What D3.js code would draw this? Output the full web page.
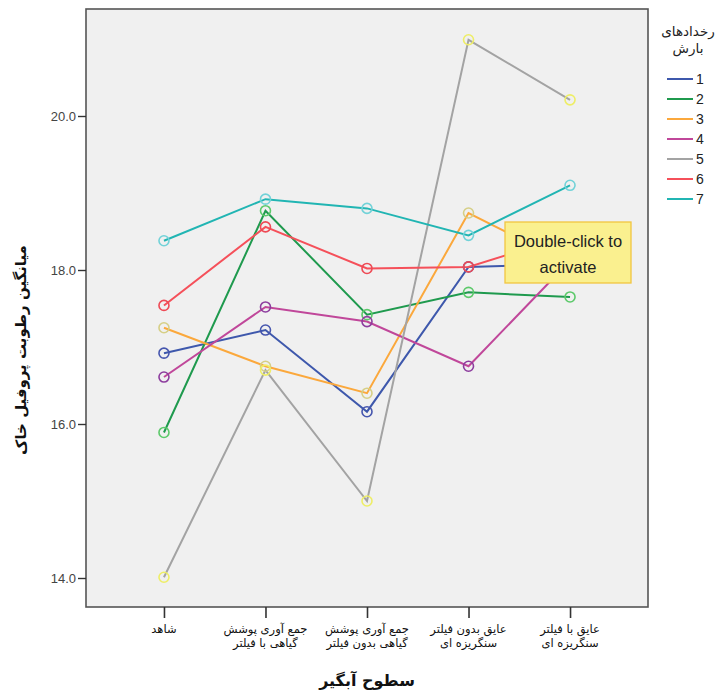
<!DOCTYPE html>
<html>
<head>
<meta charset="utf-8">
<script src="https://cdn.jsdelivr.net/npm/d3@7"></script>
<style>
  body { margin: 0; background: #ffffff; }
  svg { display: block; }
</style>
</head>
<body>
<svg id="chart" width="722" height="693"></svg>
<script>
// ---- data ----
const categories = [
  ["شاهد"],
  ["جمع آوری پوشش", "گیاهی با فیلتر"],
  ["جمع آوری پوشش", "گیاهی بدون فیلتر"],
  ["عایق بدون فیلتر", "سنگریزه ای"],
  ["عایق با فیلتر", "سنگریزه ای"]
];
const seriesNames = ["1", "2", "3", "4", "5", "6", "7"];
const series1 = [16.92, 17.22, 16.16, 18.04, 18.08];
const series2 = [15.89, 18.77, 17.42, 17.71, 17.65];
const series3 = [17.25, 16.75, 16.40, 18.74, 18.08];
const series4 = [16.61, 17.52, 17.33, 16.75, 18.12];
const series5 = [14.01, 16.70, 15.00, 20.99, 20.21];
const series6 = [17.54, 18.56, 18.02, 18.04, 18.45];
const series7 = [18.38, 18.92, 18.80, 18.45, 19.10];
const yTicks = [14, 16, 18, 20];
const lineColors = ["#3e58ac", "#1f9a4e", "#fba83c", "#c0479a", "#a3a3a3", "#f5505a", "#21b5b3"];
const markerColors = ["#4656ae", "#5cc96a", "#d6cf86", "#8d3d9e", "#eeee66", "#ee4a55", "#72d2d8"];
const yTitle = "میانگین رطوبت پروفیل خاک";
const xTitle = "سطوح آبگیر";
const legendTitle = ["رخدادهای", "بارش"];
const noteLines = ["Double-click to", "activate"];

const allSeries = [series1, series2, series3, series4, series5, series6, series7];

// ---- layout ----
const svg = d3.select("#chart");
const frame = { left: 86, top: 9, right: 648, bottom: 607 };

const x = d3.scalePoint()
  .domain(d3.range(categories.length))
  .range([frame.left, frame.right])
  .padding(0.768);
const y = d3.scaleLinear().domain([14, 20]).range([578, 116]);

// plot background
svg.append("rect")
  .attr("x", frame.left).attr("y", frame.top)
  .attr("width", frame.right - frame.left).attr("height", frame.bottom - frame.top)
  .attr("fill", "#f0f0f0");

// lines
const line = d3.line().x((d, i) => x(i)).y(d => y(d));
allSeries.forEach((s, k) => {
  svg.append("path")
    .datum(s)
    .attr("d", line)
    .attr("fill", "none")
    .attr("stroke", lineColors[k])
    .attr("stroke-width", 2);
});
// markers
allSeries.forEach((s, k) => {
  svg.append("g").selectAll("circle")
    .data(s)
    .join("circle")
    .attr("cx", (d, i) => x(i))
    .attr("cy", d => y(d))
    .attr("r", 5)
    .attr("fill", "none")
    .attr("stroke", markerColors[k])
    .attr("stroke-width", 1.6);
});

// frame
svg.append("rect")
  .attr("x", frame.left).attr("y", frame.top)
  .attr("width", frame.right - frame.left).attr("height", frame.bottom - frame.top)
  .attr("fill", "none")
  .attr("stroke", "#555")
  .attr("stroke-width", 1.6);

// y axis
const yAxis = svg.append("g")
  .attr("transform", `translate(${frame.left},0)`)
  .call(d3.axisLeft(y).tickValues(yTicks).tickFormat(d3.format(".1f")).tickSize(8).tickPadding(2));
yAxis.select(".domain").remove();
yAxis.selectAll(".tick line").attr("stroke", "#333").attr("stroke-width", 1.4);
yAxis.selectAll(".tick text")
  .attr("font-family", "Liberation Sans, Arial, sans-serif")
  .attr("font-size", 13)
  .attr("fill", "#444");

// x axis
const xAxis = svg.append("g")
  .attr("transform", `translate(0,${frame.bottom})`)
  .call(d3.axisBottom(x).tickSize(11).tickFormat(""));
xAxis.select(".domain").remove();
xAxis.selectAll(".tick line").attr("stroke", "#333").attr("stroke-width", 1.6);
categories.forEach((lines, i) => {
  const t = svg.append("text")
    .attr("x", x(i))
    .attr("text-anchor", "middle")
    .attr("direction", "rtl")
    .attr("font-family", "DejaVu Sans, sans-serif")
    .attr("font-size", 11.5)
    .attr("fill", "#111");
  lines.forEach((l, j) => {
    t.append("tspan").attr("x", x(i)).attr("y", 633 + j * 14).text(l);
  });
});

// axis titles
svg.append("text")
  .attr("x", (frame.left + frame.right) / 2)
  .attr("y", 686)
  .attr("text-anchor", "middle")
  .attr("direction", "rtl")
  .attr("font-family", "DejaVu Sans, sans-serif")
  .attr("font-weight", "bold")
  .attr("font-size", 16)
  .attr("fill", "#111")
  .text(xTitle);

svg.append("text")
  .attr("transform", "translate(26,350) rotate(-90)")
  .attr("text-anchor", "middle")
  .attr("direction", "rtl")
  .attr("font-family", "DejaVu Sans, sans-serif")
  .attr("font-weight", "bold")
  .attr("font-size", 15)
  .attr("fill", "#111")
  .text(yTitle);

// legend
const lt = svg.append("text")
  .attr("text-anchor", "middle")
  .attr("direction", "rtl")
  .attr("font-family", "DejaVu Sans, sans-serif")
  .attr("font-size", 13.5)
  .attr("fill", "#222");
legendTitle.forEach((l, j) => {
  lt.append("tspan").attr("x", 688).attr("y", 36 + j * 17).text(l);
});
seriesNames.forEach((n, k) => {
  const yy = 79 + k * 20;
  svg.append("line")
    .attr("x1", 667).attr("x2", 693)
    .attr("y1", yy).attr("y2", yy)
    .attr("stroke", lineColors[k]).attr("stroke-width", 2);
  svg.append("text")
    .attr("x", 696).attr("y", yy + 5)
    .attr("font-family", "Liberation Sans, Arial, sans-serif")
    .attr("font-size", 14)
    .attr("fill", "#222")
    .text(n);
});

// activation note box
svg.append("rect")
  .attr("x", 505).attr("y", 222)
  .attr("width", 126).attr("height", 61)
  .attr("fill", "#faf08f")
  .attr("stroke", "#f2c540")
  .attr("stroke-width", 1.3);
const nt = svg.append("text")
  .attr("text-anchor", "middle")
  .attr("font-family", "Liberation Sans, Arial, sans-serif")
  .attr("font-size", 16.5)
  .attr("fill", "#222");
noteLines.forEach((l, j) => {
  nt.append("tspan").attr("x", 568).attr("y", 247 + j * 26).text(l);
});
</script>
</body>
</html>
